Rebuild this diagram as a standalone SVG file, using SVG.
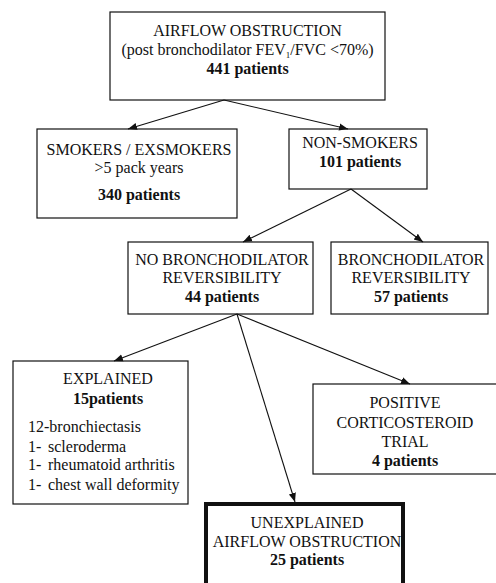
<svg xmlns="http://www.w3.org/2000/svg" width="496" height="583" viewBox="0 0 496 583">
<defs>
<style>
text{font-family:'Liberation Serif','Times New Roman',Times,serif;font-size:16px;fill:#111}
.c{text-anchor:middle}
.b{font-weight:bold}
.box{fill:#fff;stroke:#111;stroke-width:1.2}
.thick{fill:#fff;stroke:#111;stroke-width:4}
.con line{stroke:#111;stroke-width:1.1;fill:none}
</style>
<marker id="ah" viewBox="0 0 10 10" refX="10" refY="5" markerWidth="9" markerHeight="9" markerUnits="userSpaceOnUse" orient="auto">
<path d="M0,1 L10,5 L0,9 Z" fill="#111"/>
</marker>
</defs>
<rect width="496" height="583" fill="#fff"/>
<g font-family="Liberation Serif, serif">
<g id="n-top">
<rect class="box" x="110" y="12" width="275" height="88"/>
<text class="c" x="247.5" y="36">AIRFLOW OBSTRUCTION</text>
<text class="c" x="247.5" y="55">(post bronchodilator FEV<tspan font-size="9" baseline-shift="-3">1</tspan>/FVC &lt;70%)</text>
<text class="c b" x="247.5" y="74">441 patients</text>
</g>
<g id="n-smokers">
<rect class="box" x="37" y="129" width="200" height="89"/>
<text class="c" x="139" y="155">SMOKERS / EXSMOKERS</text>
<text class="c" x="139" y="173">&gt;5 pack years</text>
<text class="c b" x="139" y="200">340 patients</text>
</g>
<g id="n-nonsmokers">
<rect class="box" x="289" y="129" width="138" height="60"/>
<text class="c" x="360" y="148">NON-SMOKERS</text>
<text class="c b" x="360" y="167">101 patients</text>
</g>
<g id="n-nobd">
<rect class="box" x="128" y="242" width="185" height="72"/>
<text class="c" x="222" y="265">NO BRONCHODILATOR</text>
<text class="c" x="222" y="283">REVERSIBILITY</text>
<text class="c b" x="222" y="302">44 patients</text>
</g>
<g id="n-bd">
<rect class="box" x="331" y="242" width="157" height="72"/>
<text class="c" x="411" y="265">BRONCHODILATOR</text>
<text class="c" x="411" y="283">REVERSIBILITY</text>
<text class="c b" x="411" y="302">57 patients</text>
</g>
<g id="n-explained">
<rect class="box" x="13" y="361" width="175" height="143"/>
<text class="c" x="108" y="384">EXPLAINED</text>
<text class="c b" x="108" y="404">15patients</text>
<text x="28" y="432">12-bronchiectasis</text>
<text x="28" y="452">1-</text><text x="48" y="452">scleroderma</text>
<text x="28" y="470">1-</text><text x="48" y="470">rheumatoid arthritis</text>
<text x="28" y="490">1-</text><text x="48" y="490">chest wall deformity</text>
</g>
<g id="n-positive">
<rect class="box" x="313" y="384" width="190" height="90"/>
<text class="c" x="405" y="408">POSITIVE</text>
<text class="c" x="405" y="428">CORTICOSTEROID</text>
<text class="c" x="405" y="447">TRIAL</text>
<text class="c b" x="405" y="466">4 patients</text>
</g>
<g id="n-unexplained">
<rect class="thick" x="206" y="504" width="197" height="90"/>
<text class="c" x="307" y="528">UNEXPLAINED</text>
<text class="c" x="307" y="547">AIRFLOW OBSTRUCTION</text>
<text class="c b" x="307" y="565">25 patients</text>
</g>
</g>
<g id="connectors" class="con">
<line x1="224" y1="100" x2="128" y2="129" marker-end="url(#ah)"/>
<line x1="224" y1="100" x2="348" y2="129" marker-end="url(#ah)"/>
<line x1="351" y1="189" x2="243" y2="242" marker-end="url(#ah)"/>
<line x1="351" y1="189" x2="423" y2="242" marker-end="url(#ah)"/>
<line x1="237" y1="314" x2="114" y2="361" marker-end="url(#ah)"/>
<line x1="237" y1="314" x2="295" y2="502" marker-end="url(#ah)"/>
<line x1="237" y1="314" x2="410" y2="384" marker-end="url(#ah)"/>
</g>
</svg>
